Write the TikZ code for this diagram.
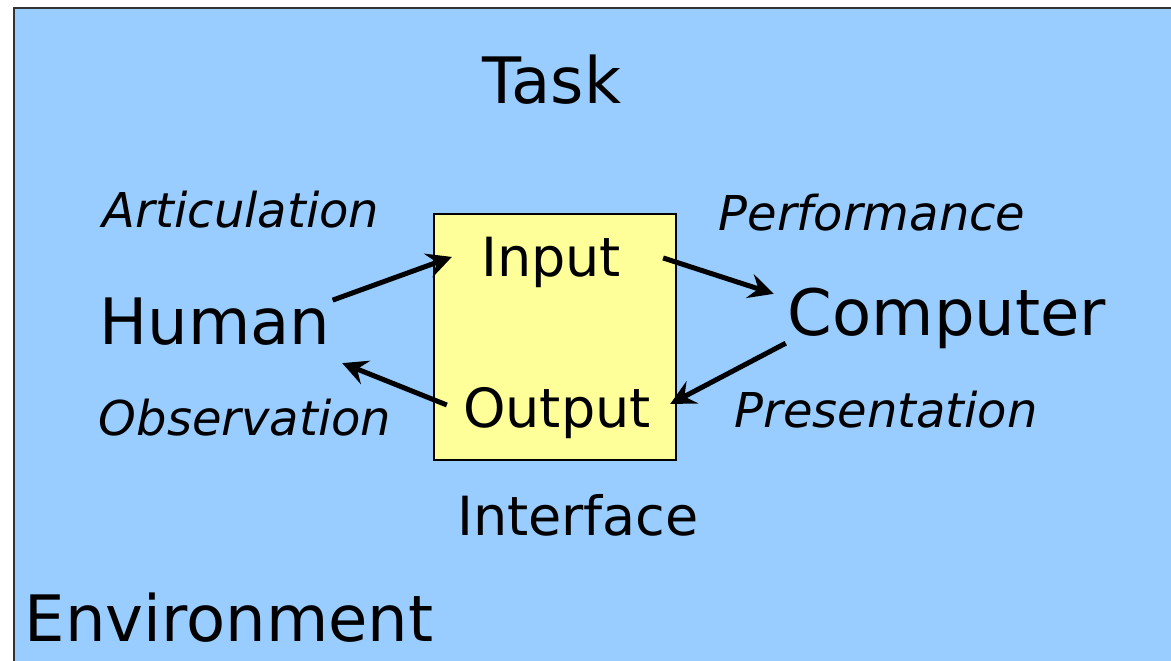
\documentclass[tikz,border=0pt]{standalone}
\usepackage{fontspec}
\setmainfont{DejaVu Sans}
\usepackage{xcolor}
\usepackage{tikz}
\usetikzlibrary{arrows.meta}
\definecolor{envblue}{HTML}{99CCFF}
\definecolor{ifyellow}{HTML}{FFFF99}

\begin{document}
\begin{tikzpicture}[x=1pt,y=-1pt,
			big/.style={inner sep=0pt,anchor=base,font=\fontsize{64}{70}\selectfont},
			mid/.style={inner sep=0pt,anchor=base,font=\fontsize{54}{60}\selectfont},
			act/.style={inner sep=0pt,anchor=base,font=\fontsize{48}{54}\selectfont\itshape},
			flow/.style={line width=5pt,-{Stealth[length=25pt,width=25pt,inset=9pt]}}]
			\useasboundingbox (0,0) rectangle (1171,661);
			\clip (0,0) rectangle (1171,661);
			% environment and interface
			\draw [line width=2.5pt,draw=black!80,fill=envblue] (14,8) rectangle (1200,700);
			\draw [line width=1.2pt,fill=ifyellow] (434,214) rectangle (676,460);
			% labels
			\node [big] (task) at (552,103) {Task};
			\node [act] (artic) at (241,227) {Articulation};
			\node [big] (human) at (215,344) {Human};
			\node [act] (perf) at (872,230) {Performance};
			\node [big] (computer) at (947,335) {Computer};
			\node [act] (obs) at (245,435) {Observation};
			\node [act] (pres) at (886,427) {Presentation};
			\node [mid] (input) at (551,276) {Input};
			\node [mid] (output) at (557,427) {Output};
			\node [mid] (iface) at (578,535) {Interface};
			\node [big] (env) at (229,641) {Environment};
			% cycle
			\draw [flow] ([shift={(2,3)}]human.north east) -- ([shift={(-29,-5)}]input.west);
			\draw [flow] ([shift={(42,-4)}]input.east) -- ([shift={(-14,6.5)}]computer.north west);
			\draw [flow] ([shift={(-2,-5.3)}]computer.south west) -- ([shift={(19.2,-8.6)}]output.east);
			\draw [flow] ([shift={(-16.2,-7.6)}]output.west) -- ([shift={(11.6,18)}]human.south east);
		\end{tikzpicture}
\end{document}
